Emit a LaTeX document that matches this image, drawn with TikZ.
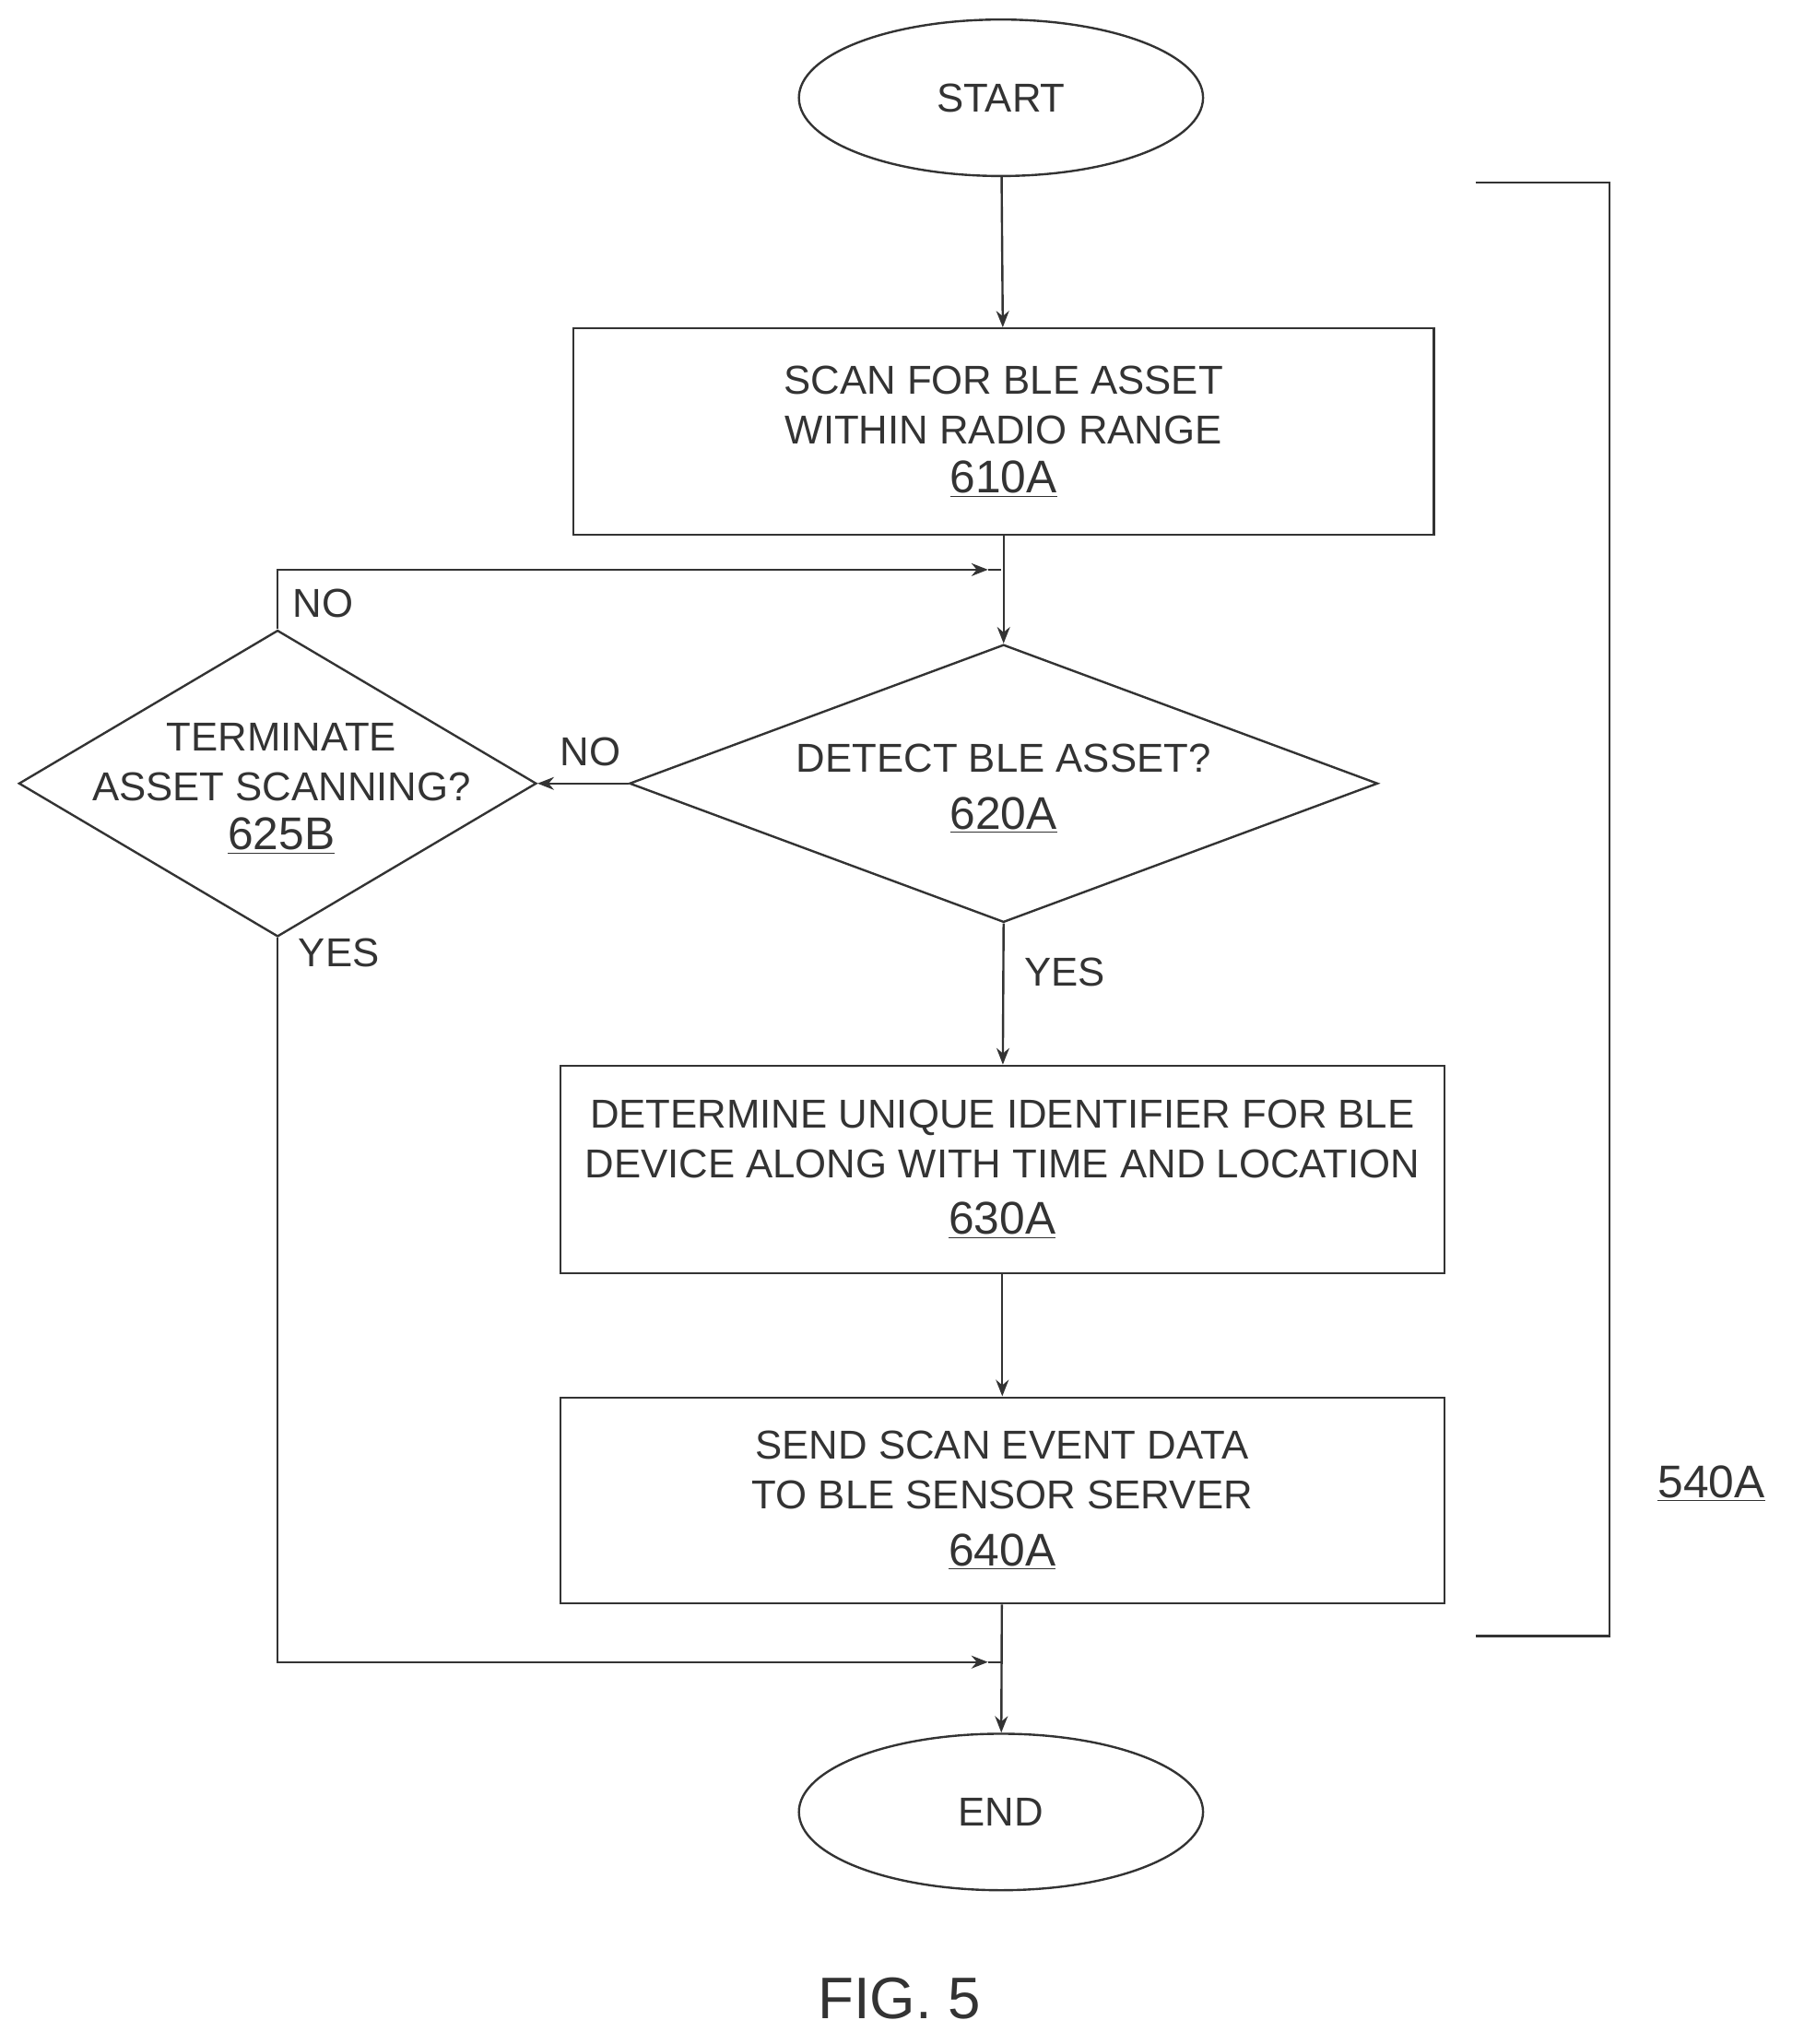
\documentclass[tikz,border=0pt]{standalone}
\usepackage{fontspec}
\setmainfont{Liberation Sans}
\usetikzlibrary{shapes.geometric,arrows.meta,positioning}

\tikzset{
  flow/.style={draw=black!80, line width=1.2pt},
  arr/.style={flow, -{Stealth[length=9pt,width=7pt]}},
  box/.style={flow, rectangle, align=center, inner sep=0pt},
  term/.style={flow, ellipse, minimum width=7.75cm, minimum height=3cm},
  dia/.style={flow, diamond, inner sep=0pt},
  txt/.style={align=center, font=\fontsize{22}{27}\selectfont, text=black!80},
}
\newcommand{\refnum}[1]{{\fontsize{25}{27}\selectfont\underline{#1}}}

\begin{document}
\begin{tikzpicture}[x=0.025cm,y=-0.025cm]
	\useasboundingbox (0,0) rectangle (1384,1568);
	% terminals
	\node[term] (start) at (768,75) {};
	\node[txt] at (start) {START};
	\node[term] (end) at (768,1390) {};
	\node[txt] at (end) {END};
	% process boxes
	\node[box, minimum width=16.5cm, minimum height=3.95cm] (scan) at (770,331) {};
	\node[txt] at (scan) {SCAN FOR BLE ASSET\\WITHIN RADIO RANGE\\\refnum{610A}};
	\node[box, minimum width=16.95cm, minimum height=3.975cm] (ident) at (769,897) {};
	\node[txt] at (ident) {DETERMINE UNIQUE IDENTIFIER FOR BLE\\DEVICE ALONG WITH TIME AND LOCATION\\[4pt]\refnum{630A}};
	\node[box, minimum width=16.95cm, minimum height=3.95cm] (send) at (769,1151) {};
	\node[txt] at (send) {SEND SCAN EVENT DATA\\TO BLE SENSOR SERVER\\[4pt]\refnum{640A}};
	% decisions
	\node[dia, minimum width=14.35cm, minimum height=5.325cm, aspect=2.7] (detect) at (770,601) {};
	\node[txt] at (770,605) {DETECT BLE ASSET?\\[4pt]\refnum{620A}};
	\node[dia, minimum width=9.925cm, minimum height=5.875cm, aspect=1.69] (term) at (213,601) {};
	\node[txt] at (216,605) {TERMINATE\\ASSET SCANNING?\\\refnum{625B}};
	% junctions
	\coordinate (j1) at (768,437);
	\coordinate (m1) at (758,437);
	\coordinate (j2) at (768,1275);
	\coordinate (m2) at (758,1275);
	% connectors
	\draw[arr] (start) -- (scan);
	\draw[arr] (scan) -- (detect.north);
	\draw[arr] (detect.west) -- (term.east);
	\draw[arr] (detect.south) -- (ident);
	\draw[arr] (ident) -- (send);
	\draw[arr] (send) -- (end);
	\draw[arr] (term.north) |- (m1);
	\draw[flow] (m1) -- (j1);
	\draw[arr] (term.south) |- (m2);
	\draw[flow] (m2) -- (j2);
	% labels
	\node[txt] (lno1) at (248,463) {NO};
	\node[txt] (lno2) at (453,577) {NO};
	\node[txt] (lyes1) at (260,731) {YES};
	\node[txt] (lyes2) at (817,746) {YES};
	% bracket
	\draw[flow] (1132,140) -- (1235,140) -- (1235,1255) -- (1132,1255);
	\node[txt] (ref) at (1313,1138) {\refnum{540A}};
	\node[txt, font=\fontsize{32}{36}\selectfont] (fig) at (690,1533) {FIG. 5};
\end{tikzpicture}
\end{document}
